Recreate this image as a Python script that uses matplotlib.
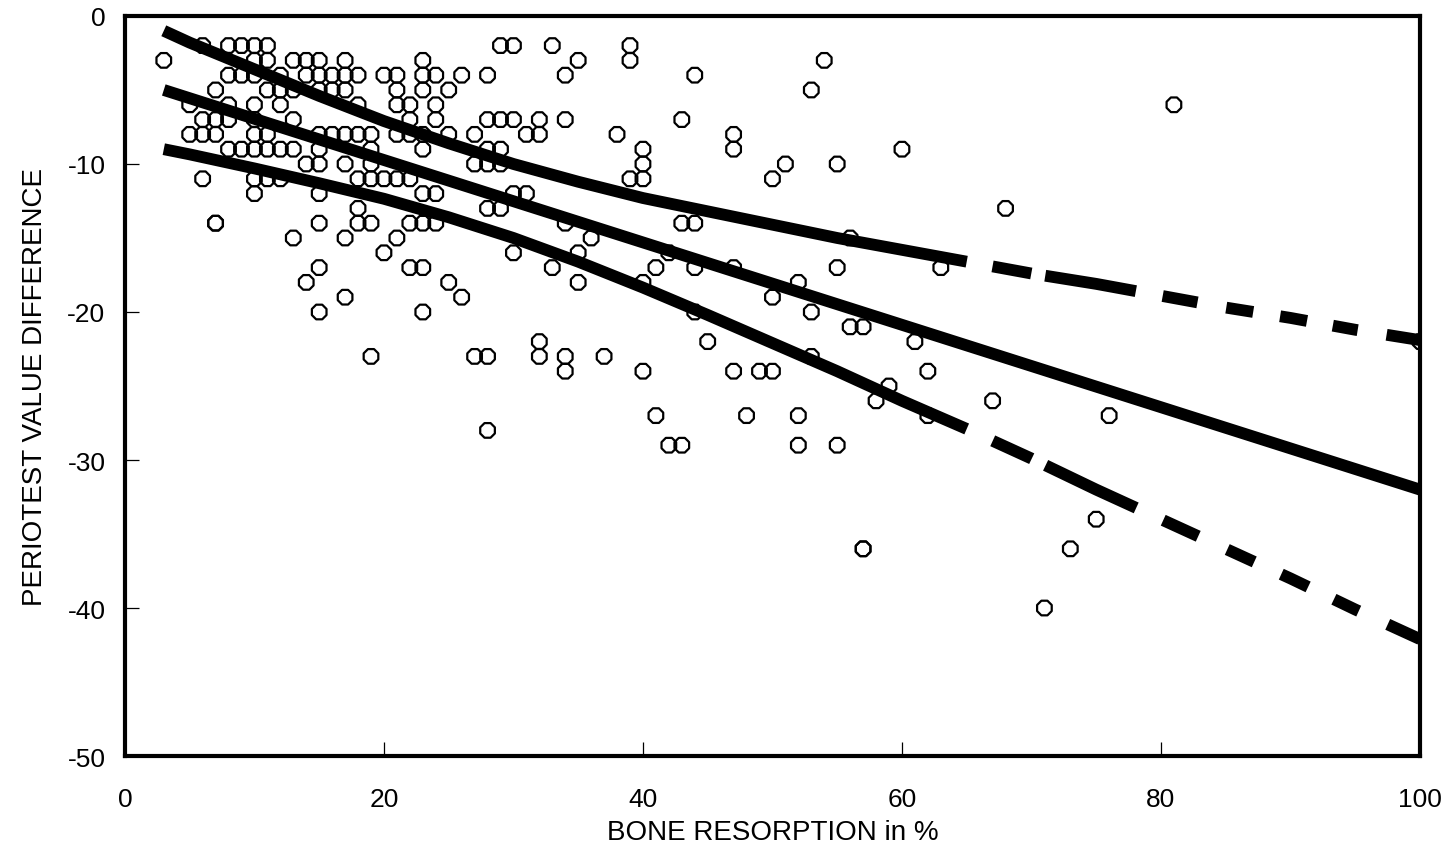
import numpy as np
import matplotlib
matplotlib.use("Agg")
import matplotlib.pyplot as plt

plt.rcParams["font.family"] = ["Liberation Sans", "DejaVu Sans"]
plt.rcParams["lines.scale_dashes"] = False

# scatter: bone resorption (%) vs periotest value difference
pts = [
    (6, -2), (8, -2), (9, -2), (10, -2), (11, -2),
    (3, -3), (10, -3), (11, -3), (13, -3), (14, -3), (15, -3),
    (8, -4), (9, -4), (10, -4), (12, -4), (14, -4), (15, -4),
    (7, -5), (11, -5), (12, -5), (13, -5),
    (5, -6), (8, -6), (10, -6), (12, -6),
    (6, -7), (7, -7), (8, -7), (10, -7), (13, -7),
    (5, -8), (6, -8), (7, -8), (10, -8), (11, -8), (15, -8),
    (8, -9), (9, -9), (10, -9), (11, -9), (12, -9), (13, -9), (15, -9),
    (14, -10), (15, -10),
    (6, -11), (10, -11), (11, -11), (12, -11),
    (10, -12), (15, -12),
    (7, -14), (7, -14), (15, -14), (18, -13), (18, -14), (19, -14),
    (13, -15), (17, -15), (15, -17), (14, -18), (17, -19), (15, -20), (19, -23),
    (29, -2), (30, -2), (17, -3), (23, -3),
    (16, -4), (17, -4), (18, -4), (20, -4), (21, -4), (23, -4), (24, -4), (26, -4), (28, -4),
    (15, -5), (16, -5), (17, -5), (21, -5), (23, -5), (25, -5),
    (18, -6), (21, -6), (22, -6), (24, -6),
    (22, -7), (24, -7), (28, -7), (29, -7), (30, -7),
    (16, -8), (17, -8), (18, -8), (19, -8), (21, -8), (22, -8), (23, -8), (25, -8), (27, -8),
    (19, -9), (23, -9), (28, -9), (29, -9),
    (17, -10), (19, -10), (27, -10), (28, -10), (29, -10),
    (18, -11), (19, -11), (20, -11), (21, -11), (22, -11),
    (23, -12), (24, -12), (30, -12), (31, -12),
    (28, -13), (29, -13),
    (22, -14), (23, -14), (24, -14), (34, -14),
    (21, -15), (36, -15),
    (20, -16), (30, -16), (35, -16),
    (22, -17), (23, -17), (33, -17),
    (25, -18), (35, -18), (26, -19), (23, -20),
    (27, -23), (28, -23), (32, -22), (32, -23), (34, -23), (37, -23),
    (34, -24), (28, -28),
    (33, -2), (39, -2), (39, -3), (35, -3), (34, -4), (44, -4),
    (32, -7), (34, -7), (43, -7),
    (31, -8), (32, -8), (38, -8), (47, -8),
    (40, -9), (47, -9), (40, -10), (51, -10),
    (39, -11), (40, -11), (50, -11),
    (43, -14), (44, -14), (56, -15), (42, -16), (41, -17), (44, -17), (47, -17),
    (55, -17), (63, -17), (40, -18), (52, -18), (50, -19), (44, -20), (53, -20),
    (56, -21), (57, -21), (61, -22), (45, -22), (40, -24), (47, -24), (49, -24),
    (50, -24), (53, -23), (62, -24), (59, -25), (58, -26), (62, -27), (41, -27),
    (48, -27), (52, -27), (42, -29), (43, -29), (52, -29), (55, -29),
    (54, -3), (53, -5), (60, -9), (55, -10), (68, -13),
    (100, -22), (67, -26), (76, -27), (75, -34), (73, -36), (71, -40),
    (57, -36), (57, -36), (81, -6),
]
resorption = [p[0] for p in pts]
pt_diff = [p[1] for p in pts]

# regression line
reg_x = [3, 100]
reg_y = [-5, -32]

# confidence band, solid part
band_x = [3, 5, 10, 15, 20, 25, 30, 35, 40, 45, 50, 55, 60, 65]
upper = [-1.0, -1.8, -3.6, -5.4, -7.1, -8.6, -10.0, -11.2, -12.3, -13.2, -14.1, -15.0, -15.8, -16.6]
lower = [-9.0, -9.35, -10.3, -11.3, -12.35, -13.6, -15.0, -16.6, -18.35, -20.2, -22.1, -24.0, -26.0, -27.9]

# confidence band, dashed extrapolation
ext_x = [65, 70, 75, 80, 85, 90, 95, 100]
upper_ext = [-16.6, -17.4, -18.1, -18.9, -19.7, -20.4, -21.2, -21.9]
lower_ext = [-27.9, -29.9, -32.0, -34.0, -36.0, -38.0, -40.1, -42.1]

fig = plt.figure(figsize=(14.46, 8.53), dpi=100)
ax = fig.add_axes([0.0864, 0.1125, 0.8956, 0.8676])

ax.scatter(resorption, pt_diff, s=130, marker="8", facecolors="none",
           edgecolors="black", linewidths=1.6, zorder=2)

lw = 8.5
ax.plot(reg_x, reg_y, color="black", lw=lw, solid_capstyle="butt", zorder=3)
ax.plot(band_x, upper, color="black", lw=lw, solid_capstyle="butt", zorder=3)
ax.plot(band_x, lower, color="black", lw=lw, solid_capstyle="butt", zorder=3)


def dash_style(f):
    seq = [d * 0.72 * f for d in [39, 14, 91, 27, 35, 29, 27, 27, 27, 26, 25, 29, 60, 26]]
    return (sum(seq) - seq[-1], seq)


ax.plot(ext_x, upper_ext, color="black", lw=lw, linestyle=dash_style(1.01),
        dash_capstyle="butt", zorder=3)
ax.plot(ext_x, lower_ext, color="black", lw=lw, linestyle=dash_style(1.10),
        dash_capstyle="butt", zorder=3)

ax.set_xlim(0, 100)
ax.set_ylim(-50, 0)
ax.set_xticks([0, 20, 40, 60, 80, 100])
ax.set_xticklabels(["0", "20", "40", "60", "80", "100"])
ax.set_yticks([0, -10, -20, -30, -40, -50])
ax.set_yticklabels(["0", "-10", "-20", "-30", "-40", "-50"])
ax.tick_params(axis="both", direction="in", length=10, width=0.9, labelsize=19)
ax.tick_params(axis="x", pad=22)
ax.tick_params(axis="y", pad=14)
for sp in ax.spines.values():
    sp.set_linewidth(3)

ax.set_xlabel("BONE RESORPTION in %", fontsize=20, labelpad=6)
ax.set_ylabel("PERIOTEST VALUE DIFFERENCE", fontsize=20, labelpad=14)

fig.savefig("out.png", dpi=100)
